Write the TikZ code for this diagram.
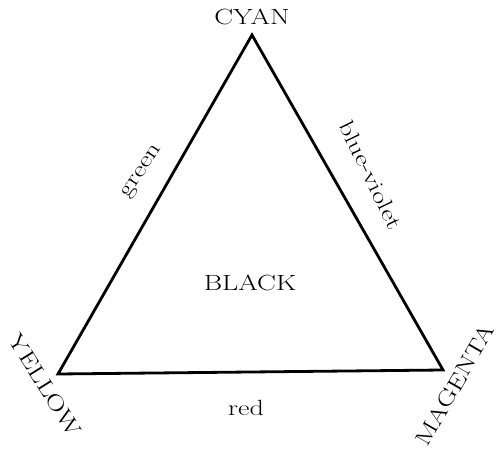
\documentclass[tikz,border=0pt]{standalone}
\begin{document}
\begin{tikzpicture}[x=1pt,y=1pt,
  lbl/.style={inner sep=0pt,font=\fontsize{22}{24}\selectfont},
  wide/.style={xscale=1.28},
  edge/.style={line width=2.8pt,line join=miter}]
\useasboundingbox (0,0) rectangle (498,453);
\coordinate (C) at (252,418);
\coordinate (Y) at (58,79);
\coordinate (M) at (443,83);
\draw[edge] (Y) -- (C) -- (M) -- cycle;
\node[lbl,wide] (cyan) at (252,436) {CYAN};
\node[lbl,rotate=-58,wide] (yellow) at (45,68) {YELLOW};
\node[lbl,rotate=60,wide] (magenta) at (455,68) {MAGENTA};
\node[lbl,rotate=57,wide] (green) at (143,281) {green};
\node[lbl,rotate=-64,wide] (bv) at (371,278) {blue-violet};
\node[lbl,wide] (black) at (250,170) {BLACK};
\node[lbl,wide] (red) at (246,45) {red};
\end{tikzpicture}
\end{document}
